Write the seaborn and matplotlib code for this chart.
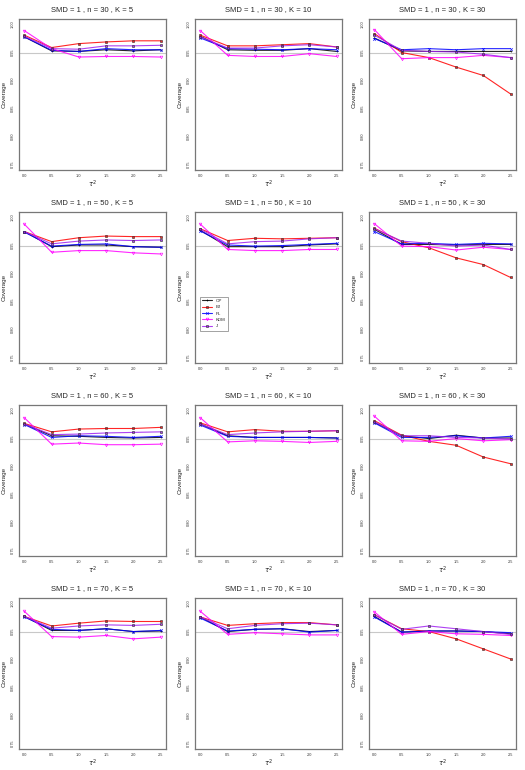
import numpy as np
import pandas as pd
import matplotlib
matplotlib.use("Agg")
import matplotlib.pyplot as plt
import seaborn as sns

# tau^2 grid
tau2 = [0.0, 0.5, 1.0, 1.5, 2.0, 2.5]
n_values = [30, 50, 60, 70]
k_values = [5, 10, 30]
methods = ['OP', 'BJ', 'PL', 'KDM', 'J']

# coverage per panel (row = n, col = K)
OP = [
    [0.978, 0.953, 0.952, 0.955, 0.953, 0.955],
    [0.979, 0.955, 0.954, 0.954, 0.957, 0.952],
    [0.976, 0.953, 0.952, 0.952, 0.952, 0.952],
    [0.975, 0.948, 0.951, 0.951, 0.948, 0.947],
    [0.977, 0.948, 0.948, 0.948, 0.951, 0.953],
    [0.979, 0.952, 0.952, 0.951, 0.952, 0.952],
    [0.976, 0.955, 0.954, 0.952, 0.951, 0.952],
    [0.976, 0.955, 0.952, 0.952, 0.952, 0.951],
    [0.979, 0.955, 0.950, 0.956, 0.951, 0.951],
    [0.977, 0.952, 0.952, 0.955, 0.950, 0.951],
    [0.976, 0.950, 0.954, 0.955, 0.950, 0.952],
    [0.977, 0.949, 0.951, 0.951, 0.950, 0.946],
]
BJ = [
    [0.981, 0.959, 0.966, 0.969, 0.971, 0.971],
    [0.981, 0.962, 0.962, 0.964, 0.966, 0.960],
    [0.984, 0.950, 0.941, 0.924, 0.909, 0.876],
    [0.975, 0.957, 0.964, 0.967, 0.966, 0.966],
    [0.980, 0.959, 0.963, 0.962, 0.963, 0.964],
    [0.981, 0.957, 0.946, 0.928, 0.916, 0.893],
    [0.977, 0.962, 0.967, 0.968, 0.968, 0.970],
    [0.978, 0.962, 0.966, 0.963, 0.963, 0.964],
    [0.982, 0.956, 0.945, 0.938, 0.917, 0.905],
    [0.977, 0.960, 0.965, 0.969, 0.968, 0.968],
    [0.976, 0.961, 0.964, 0.966, 0.966, 0.962],
    [0.980, 0.955, 0.950, 0.937, 0.919, 0.901],
]
PL = [
    [0.978, 0.954, 0.952, 0.957, 0.955, 0.955],
    [0.976, 0.957, 0.956, 0.955, 0.957, 0.955],
    [0.975, 0.955, 0.957, 0.955, 0.957, 0.957],
    [0.974, 0.949, 0.952, 0.953, 0.948, 0.947],
    [0.976, 0.951, 0.949, 0.950, 0.952, 0.954],
    [0.975, 0.953, 0.954, 0.952, 0.954, 0.953],
    [0.975, 0.952, 0.955, 0.954, 0.952, 0.954],
    [0.974, 0.954, 0.952, 0.952, 0.952, 0.951],
    [0.978, 0.952, 0.952, 0.955, 0.951, 0.954],
    [0.976, 0.954, 0.952, 0.955, 0.950, 0.952],
    [0.974, 0.951, 0.954, 0.955, 0.949, 0.952],
    [0.976, 0.949, 0.951, 0.951, 0.950, 0.948],
]
KDM = [
    [0.989, 0.957, 0.942, 0.943, 0.943, 0.942],
    [0.989, 0.945, 0.943, 0.943, 0.948, 0.943],
    [0.991, 0.939, 0.941, 0.941, 0.945, 0.941],
    [0.988, 0.938, 0.941, 0.941, 0.937, 0.935],
    [0.988, 0.943, 0.941, 0.941, 0.943, 0.943],
    [0.989, 0.949, 0.948, 0.942, 0.947, 0.943],
    [0.987, 0.940, 0.942, 0.939, 0.939, 0.940],
    [0.987, 0.944, 0.946, 0.945, 0.943, 0.945],
    [0.990, 0.946, 0.945, 0.950, 0.946, 0.948],
    [0.986, 0.941, 0.940, 0.943, 0.937, 0.940],
    [0.986, 0.945, 0.948, 0.946, 0.944, 0.944],
    [0.985, 0.945, 0.950, 0.946, 0.945, 0.943],
]
J = [
    [0.979, 0.957, 0.956, 0.962, 0.962, 0.963],
    [0.978, 0.958, 0.958, 0.962, 0.964, 0.960],
    [0.981, 0.954, 0.952, 0.951, 0.947, 0.941],
    [0.975, 0.953, 0.958, 0.960, 0.959, 0.960],
    [0.979, 0.953, 0.957, 0.958, 0.962, 0.964],
    [0.980, 0.958, 0.954, 0.949, 0.951, 0.943],
    [0.976, 0.957, 0.958, 0.960, 0.961, 0.962],
    [0.976, 0.957, 0.960, 0.962, 0.963, 0.964],
    [0.980, 0.955, 0.955, 0.952, 0.951, 0.949],
    [0.977, 0.956, 0.960, 0.962, 0.961, 0.963],
    [0.976, 0.955, 0.961, 0.964, 0.965, 0.962],
    [0.980, 0.954, 0.960, 0.955, 0.950, 0.945],
]

y_ticks = [0.75, 0.80, 0.85, 0.90, 0.95, 1.00]
x_ticks = [0.0, 0.5, 1.0, 1.5, 2.0, 2.5]

sns.set_style("white")
plt.rcParams['font.family'] = ['Liberation Sans', 'DejaVu Sans']

colors = {'OP': 'black', 'BJ': 'red', 'PL': 'blue', 'KDM': '#FF00FF', 'J': '#A020F0'}
marks = {'OP': '+', 'BJ': 's', 'PL': 'x', 'KDM': 'v', 'J': 's'}
all_data = {'OP': OP, 'BJ': BJ, 'PL': PL, 'KDM': KDM, 'J': J}

fig = plt.figure(figsize=(5.25, 7.7), dpi=100)
W, H = 525.0, 770.0
col_left = [19, 195, 369]
row_top = [19, 212, 405, 598]
pw, ph = 147, 151

for i, n in enumerate(n_values):
    for j, k in enumerate(k_values):
        p = i * 3 + j
        ax = fig.add_axes([col_left[j] / W, 1 - (row_top[i] + ph) / H, pw / W, ph / H])
        ax.axhline(0.95, color='#c8c8c8', lw=0.8, zorder=0)
        for m in methods:
            df = pd.DataFrame({'tau2': tau2, 'cov': all_data[m][p]})
            filled = marks[m] in ('s', 'v')
            sns.lineplot(data=df, x='tau2', y='cov', ax=ax, color=colors[m],
                         lw=0.8, alpha=0.85, marker=marks[m], markersize=1.9,
                         markeredgewidth=0.5,
                         markerfacecolor=('none' if m == 'KDM' else colors[m]) if filled else None,
                         markeredgecolor='#333333' if m in ('BJ', 'J') else colors[m],
                         label=m)
        ax.set_xlim(-0.1, 2.6)
        ax.set_ylim(0.74, 1.01)
        ax.set_xticks(x_ticks)
        ax.set_xticklabels([f'{v:.1f}' for v in x_ticks], fontsize=2.8)
        ax.set_yticks(y_ticks)
        ax.set_yticklabels([f'{v:.2f}' for v in y_ticks], fontsize=2.8, rotation=90, va='center')
        ax.tick_params(direction='out', length=2, width=0.5, pad=1.2, colors='#333333')
        for s in ax.spines.values():
            s.set_color('#777777')
            s.set_linewidth(0.9)
        ax.set_title(f'SMD = 1 , n = {n} , K = {k}', fontsize=5.5, pad=6)
        ax.set_xlabel(r'$\tau^2$', fontsize=5, labelpad=0)
        ax.set_ylabel('Coverage', fontsize=4.5, labelpad=3)
        if i == 1 and j == 1:
            leg = ax.legend(loc='lower left', bbox_to_anchor=(0.02, 0.2), fontsize=3.2,
                            frameon=True, fancybox=False, edgecolor='#777777',
                            handlelength=2.2, borderpad=0.5, labelspacing=0.5)
            leg.get_frame().set_linewidth(0.6)
        elif ax.get_legend() is not None:
            ax.get_legend().remove()

fig.savefig('out.png', dpi=100)
